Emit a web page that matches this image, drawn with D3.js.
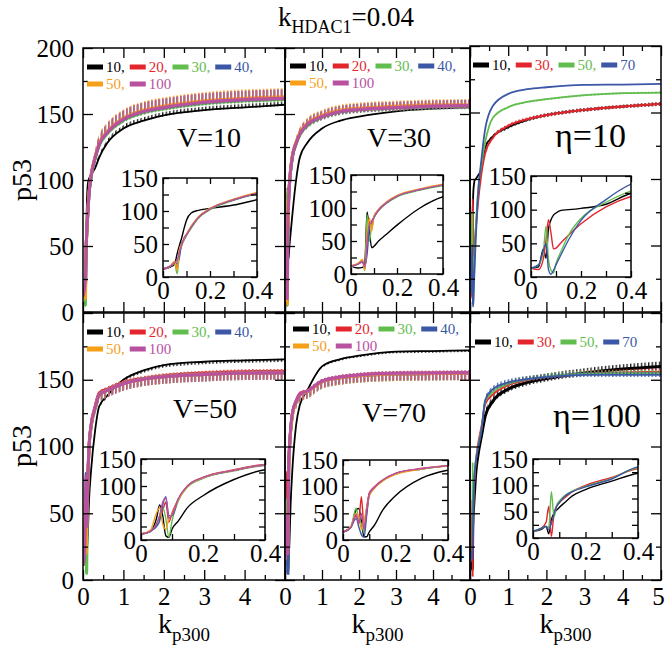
<!DOCTYPE html>
<html><head><meta charset="utf-8">
<script src="https://cdn.jsdelivr.net/npm/d3@7"></script>
<style>body{margin:0;background:#fff}svg{display:block}</style>
</head><body><svg id="c" width="665" height="651"></svg>
<script>
// ---------------- data ----------------
const K = [0, 0.03, 0.05, 0.06, 0.07, 0.08, 0.09, 0.1, 0.12, 0.15, 0.2, 0.3, 0.4, 0.6, 1, 1.5, 2, 3, 4, 5];
const xMajor = [0, 1, 2, 3, 4, 5];
const xMinor = [0.5, 1.5, 2.5, 3.5, 4.5];
const yMajor = [0, 50, 100, 150, 200];
const yMinor = [25, 75, 125, 175];
const ixMajor = [0, 0.2, 0.4];
const ixMinor = [0.1, 0.3];
const iyMajor = [0, 50, 100, 150];
const iyMinor = [25, 75, 125];
const labels6 = ["10,", "20,", "30,", "40,", "50,", "100"];
const labels4 = ["10,", "30,", "50,", "70"];

// V=10
const tl10  = [12, 15, 20, 35, 48, 60, 74, 86, 97, 101, 104, 109, 117, 128, 139, 145, 149, 153, 155, 157];
const tl20  = [12, 16, 22, 15, 40, 50, 58, 64, 75, 90, 103, 117, 127, 136, 146, 152, 155, 159, 161, 162];
const tl30  = [12, 16, 20, 5, 35, 48, 56, 63, 74, 89, 102, 116, 126, 135, 145, 151, 154, 158, 160, 161];
const tl40  = [12, 16, 22, 20, 30, 52, 57, 64, 76, 90, 103, 117, 127, 136, 146, 152, 155, 159, 161, 162];
const tl50  = [12, 16, 24, 10, 42, 50, 58, 65, 77, 91, 104, 118, 128, 137, 147, 153, 156, 160, 162, 163];
const tl100 = [12, 16, 22, 25, 38, 48, 60, 64, 76, 90, 103, 117, 127, 136, 146, 152, 155, 159, 161, 162];
// V=30
const tm10  = [12, 9, 10, 16, 94, 64, 40, 42, 50, 59, 74, 100, 117, 128, 139, 145, 148, 152, 154, 155];
const tm20  = [12, 15, 19, 8, 45, 80, 70, 87, 97, 107, 118, 128, 135, 142, 148, 152, 153.5, 155, 156, 156.5];
const tm30  = [12, 15, 20, 5, 90, 50, 75, 86, 96, 106, 117, 127, 134, 141, 147.5, 151.5, 153, 154.5, 155.5, 156];
const tm40  = [12, 15, 18, 12, 30, 70, 80, 86, 97, 107, 118, 128, 135, 142, 148, 152, 153.5, 155, 156, 156.5];
const tm50  = [12, 16, 22, 6, 60, 85, 65, 88, 98, 108, 119, 129, 136, 143, 149, 153, 154.5, 156, 157, 157];
const tm100 = [12, 15, 19, 10, 50, 75, 78, 86, 97, 107, 118, 128, 135, 142, 148, 152, 153.5, 155, 156, 156.5];
// eta=10
const tr10 = [13, 15, 42, 28, 72, 85, 92, 95, 99, 100, 102, 108, 124, 132, 139, 144.5, 148, 152, 154.5, 156.5];
const tr30 = [13, 11, 28, 55, 85, 65, 42, 43, 51, 62, 79, 104, 119.5, 131, 140, 145, 148, 152, 154.5, 156.5];
const tr50 = [13, 18, 40, 75, 25, 10, 6, 20, 38, 62, 87, 111, 128, 146, 154, 158, 160, 163, 164.5, 165];
const tr70 = [13, 18, 40, 50, 11, 4, 10, 18, 33, 55, 84, 115, 138, 155, 164, 167.5, 169, 170.7, 171, 171.5];
// V=50
const bl10  = [11, 16, 40, 65, 45, 8, 5, 20, 35, 60, 82, 112, 130, 138, 150, 157, 161, 163.5, 164.5, 165.3];
const bl20  = [11, 16, 30, 40, 55, 70, 33, 50, 75, 100, 116, 130, 140, 143, 148, 151, 153, 155, 156, 156.3];
const bl30  = [11, 16, 28, 45, 60, 40, 5, 35, 72, 98, 114, 128, 138, 142, 147, 150.5, 152.3, 154, 155, 155.3];
const bl40  = [11, 16, 25, 35, 65, 80, 45, 45, 76, 100, 115, 129, 139, 142, 147, 150.5, 152.3, 154, 155, 155.3];
const bl50  = [11, 18, 50, 60, 30, 20, 40, 48, 74, 99, 115, 129, 139, 142, 147, 150.5, 152.3, 154, 155, 155.3];
const bl100 = [11, 16, 30, 45, 70, 78, 40, 46, 76, 100, 116, 129, 139, 142, 147, 150.5, 152.3, 154, 155, 155.3];
// V=70
const bm10  = [15, 24, 56, 59, 35, 6, 6, 15, 28, 55, 83, 116, 131, 142, 160, 165.5, 168, 171, 171.5, 172];
const bm20  = [15, 24, 45, 35, 81, 25, 60, 88, 100, 112, 125, 134, 139.5, 141.5, 149, 152, 153.5, 154.8, 155, 155.3];
const bm30  = [15, 24, 60, 40, 30, 15, 50, 85, 98, 111, 124, 133, 138.5, 141, 148.5, 151.5, 153, 154.3, 154.6, 154.8];
const bm40  = [15, 24, 40, 25, 10, 5, 45, 84, 98, 111, 124, 133, 138.5, 141, 148.5, 151.5, 153, 154.3, 154.6, 154.8];
const bm50  = [15, 26, 50, 45, 20, 35, 60, 82, 97, 110, 123, 133, 138.5, 141, 148.5, 151.5, 153, 154.3, 154.6, 154.8];
const bm100 = [15, 24, 48, 30, 50, 20, 55, 86, 99, 112, 125, 134, 139, 141.5, 149, 152, 153.5, 154.8, 155, 155.3];
// eta=100
const br10 = [12.6, 16, 22, 8, 35, 47, 53, 58, 67, 80, 92, 108, 123, 134, 143, 148, 151, 155, 158, 160];
const br30 = [12.6, 18, 30, 60, 3, 47, 60, 67, 76, 88, 100, 115, 132, 139, 146, 150, 152, 154.5, 155.5, 156];
const br50 = [12.6, 18, 22, 20, 88, 40, 62, 70, 80, 89, 98, 113, 134, 141, 147, 150.5, 152.5, 154.5, 155, 155];
const br70 = [12.6, 18, 22, 16, 28, 45, 60, 67, 79, 88, 97, 112, 135, 143, 148, 150.5, 152, 153.6, 153.6, 153.6];

// ---------------- styles / layout ----------------
const C = {k:"#000000", r:"#e3262d", g:"#62bd4f", b:"#3b57a6", o:"#f6a01a", m:"#b8519f"};
const col6 = [C.k, C.r, C.g, C.b, C.o, C.m];
const col4 = [C.k, C.r, C.g, C.b];

function mk(labels, cols, arrays, fuzz){
  return arrays.map((a,i)=>({name:labels[i], color:cols[i], data:a, fuzz:fuzz[i]}));
}
const panels = [
 {id:"tl", x0:83, x1:285, yt:48, yb:312, yLab:true, xLab:false, last:false, up:2.2, dn:0.6,
  label:"V=10", lx:177, ly:147, lfs:28, leg:[87,67],
  inset:[163,178,257,277],
  series: mk(labels6, col6, [tl10,tl20,tl30,tl40,tl50,tl100], [1.5,4,4,4,4,4])},
 {id:"tm", x0:285, x1:470, yt:48, yb:312, yLab:false, xLab:false, last:false, up:1.6, dn:0.9,
  label:"V=30", lx:367, ly:147, lfs:28, leg:[290,66],
  inset:[351,175,443,274],
  series: mk(labels6, col6, [tm10,tm20,tm30,tm40,tm50,tm100], [0,3.5,3.5,3.5,3.5,3.5])},
 {id:"tr", x0:470, x1:661, yt:46, yb:312, yLab:false, xLab:false, last:true, up:1.2, dn:1.2,
  label:"η=10", lx:555, ly:147, lfs:34, leg:[473,65],
  inset:[531,176,631,277],
  series: mk(labels4, col4, [tr10,tr30,tr50,tr70], [1.5,1.5,0.8,0])},
 {id:"bl", x0:83, x1:285, yt:313, yb:580, yLab:true, xLab:true, last:false, yTop:150, up:0.7, dn:2,
  label:"V=50", lx:173, ly:418, lfs:28, leg:[87,332],
  inset:[141,459,265,540],
  series: mk(labels6, col6, [bl10,bl20,bl30,bl40,bl50,bl100], [1.2,3.5,3.5,3.5,3.5,3.5])},
 {id:"bm", x0:285, x1:470, yt:313, yb:580, yLab:false, xLab:true, last:false, up:0.7, dn:2,
  label:"V=70", lx:362, ly:422, lfs:28, leg:[293,329],
  inset:[343,460,448,540],
  series: mk(labels6, col6, [bm10,bm20,bm30,bm40,bm50,bm100], [0.8,3.5,3.5,3.5,3.5,3.5])},
 {id:"br", x0:470, x1:661, yt:313, yb:580, yLab:false, xLab:true, last:true, up:1.6, dn:1,
  label:"η=100", lx:553, ly:427, lfs:34, leg:[475,342],
  inset:[533,459,638,538],
  series: mk(labels4, col4, [br10,br30,br50,br70], [3,2,2,2])}
];

const FONT = "'Liberation Serif', 'Times New Roman', serif";
const svg = d3.select("#c").style("font-family", FONT);
const defs = svg.append("defs");

function T(sel){ return sel.style("font-family", FONT); }

function hatch(color){
  const id = "h" + color.slice(1);
  if (defs.select("#"+id).empty()){
    const p = defs.append("pattern").attr("id",id).attr("patternUnits","userSpaceOnUse")
      .attr("width",3.6).attr("height",40);
    p.append("line").attr("x1",0.7).attr("x2",0.7).attr("y1",0).attr("y2",40)
      .attr("stroke",color).attr("stroke-width",1.2);
  }
  return id;
}

function addAxis(g, gen, tr, values, size, fmt, pad, fs){
  const a = g.append("g").attr("transform",tr)
    .call(gen.tickValues(values).tickSizeInner(-size).tickSizeOuter(0).tickPadding(pad).tickFormat(fmt));
  a.select(".domain").remove();
  a.attr("font-family", null);
  a.selectAll("line").attr("stroke","#000").attr("stroke-width",1.3);
  T(a.selectAll("text")).style("font-size", fs+"px").attr("fill","#000");
  return a;
}

function drawPanel(P){
  const g = svg.append("g");
  const x = d3.scaleLinear().domain([0,5]).range([P.x0,P.x1]);
  const y = d3.scaleLinear().domain([0,200]).range([P.yb,P.yt]);
  const cid = "clip"+P.id;
  defs.append("clipPath").attr("id",cid).append("rect")
    .attr("x",P.x0).attr("y",P.yt).attr("width",P.x1-P.x0).attr("height",P.yb-P.yt);
  const lg = g.append("g").attr("clip-path",`url(#${cid})`);
  P.series.forEach(s=>{
    const pts = K.map((k,i)=>[k, s.data[i]]);
    if (s.fuzz > 0){
      const fp = pts.filter(d=>d[0] >= 0.3);
      lg.append("path").datum(fp)
        .attr("d", d3.area().x(d=>x(d[0])).y0(d=>y(d[1])-s.fuzz*P.up).y1(d=>y(d[1])+s.fuzz*P.dn).curve(d3.curveMonotoneX))
        .attr("fill", `url(#${hatch(s.color)})`);
    }
    lg.append("path").datum(pts)
      .attr("d", d3.line().x(d=>x(d[0])).y(d=>y(d[1])).curve(d3.curveMonotoneX))
      .attr("fill","none").attr("stroke",s.color).attr("stroke-width", s.fuzz>=3 ? 3 : 1.8);
  });
  const xf = d => P.xLab ? ((d===5 && !P.last) ? "" : d) : "";
  const yTop = P.yTop===undefined ? 200 : P.yTop;
  const yf = d => P.yLab ? (d<=yTop ? d : "") : "";
  const xa = addAxis(g, d3.axisBottom(x), `translate(0,${P.yb})`, xMajor, 10, xf, 7, 25);
  if (P.last) xa.selectAll("text").filter(d=>d===5).attr("x",-3);
  addAxis(g, d3.axisBottom(x), `translate(0,${P.yb})`, xMinor, 5, "", 7, 25);
  addAxis(g, d3.axisTop(x), `translate(0,${P.yt})`, xMajor, 10, "", 9, 25);
  addAxis(g, d3.axisTop(x), `translate(0,${P.yt})`, xMinor, 5, "", 9, 25);
  addAxis(g, d3.axisLeft(y), `translate(${P.x0},0)`, yMajor, 10, yf, 9, 25);
  addAxis(g, d3.axisLeft(y), `translate(${P.x0},0)`, yMinor, 5, "", 9, 25);
  addAxis(g, d3.axisRight(y), `translate(${P.x1},0)`, yMajor, 10, "", 9, 25);
  addAxis(g, d3.axisRight(y), `translate(${P.x1},0)`, yMinor, 5, "", 9, 25);
  g.append("rect").attr("x",P.x0).attr("y",P.yt).attr("width",P.x1-P.x0).attr("height",P.yb-P.yt)
    .attr("fill","none").attr("stroke","#000").attr("stroke-width",1.5);

  // legend
  let lx = P.leg[0], ly = P.leg[1];
  P.series.forEach((s,i)=>{
    if (P.series.length===6 && i===4){ lx = P.leg[0]; ly += 17; }
    g.append("rect").attr("x",lx).attr("y",ly-2.5).attr("width",16).attr("height",5).attr("fill",s.color);
    const t = T(g.append("text")).attr("x",lx+19).attr("y",ly+5).style("font-size","15px")
      .attr("fill",s.color).text(s.name);
    lx += 19 + t.node().getComputedTextLength() + 5;
  });

  T(g.append("text")).attr("x",P.lx).attr("y",P.ly).style("font-size",P.lfs+"px").attr("fill","#000").text(P.label);

  // inset
  const [ix0,iy0,ix1,iy1] = P.inset;
  const xi = d3.scaleLinear().domain([0,0.4]).range([ix0,ix1]);
  const yi = d3.scaleLinear().domain([0,150]).range([iy1,iy0]);
  const gi = svg.append("g");
  gi.append("rect").attr("x",ix0).attr("y",iy0).attr("width",ix1-ix0).attr("height",iy1-iy0).attr("fill","#fff");
  const icid = "iclip"+P.id;
  defs.append("clipPath").attr("id",icid).append("rect")
    .attr("x",ix0).attr("y",iy0).attr("width",ix1-ix0).attr("height",iy1-iy0);
  const il = gi.append("g").attr("clip-path",`url(#${icid})`);
  P.series.forEach(s=>{
    const pts = K.map((k,i)=>[k, s.data[i]]).filter(d=>d[0]<=0.6);
    il.append("path").datum(pts)
      .attr("d", d3.line().x(d=>xi(d[0])).y(d=>yi(d[1])).curve(d3.curveMonotoneX))
      .attr("fill","none").attr("stroke",s.color).attr("stroke-width",1.4);
  });
  const ixf = d => d===0 ? "0" : d.toFixed(1);
  addAxis(gi, d3.axisBottom(xi), `translate(0,${iy1})`, ixMajor, 6, ixf, 4, 25);
  addAxis(gi, d3.axisBottom(xi), `translate(0,${iy1})`, ixMinor, 6, "", 4, 25);
  addAxis(gi, d3.axisTop(xi), `translate(0,${iy0})`, ixMajor, 6, "", 5, 25);
  addAxis(gi, d3.axisTop(xi), `translate(0,${iy0})`, ixMinor, 6, "", 5, 25);
  addAxis(gi, d3.axisLeft(yi), `translate(${ix0},0)`, iyMajor, 6, d=>d, 5, 25);
  addAxis(gi, d3.axisLeft(yi), `translate(${ix0},0)`, iyMinor, 6, "", 5, 25);
  addAxis(gi, d3.axisRight(yi), `translate(${ix1},0)`, iyMajor, 6, "", 5, 25);
  addAxis(gi, d3.axisRight(yi), `translate(${ix1},0)`, iyMinor, 6, "", 5, 25);
  gi.append("rect").attr("x",ix0).attr("y",iy0).attr("width",ix1-ix0).attr("height",iy1-iy0)
    .attr("fill","none").attr("stroke","#000").attr("stroke-width",1.5);
}
panels.forEach(drawPanel);

// titles
const title = T(svg.append("text")).attr("x",278).attr("y",26).style("font-size","27px").attr("fill","#000");
title.append("tspan").text("k");
title.append("tspan").style("font-size","18px").attr("dy",7).text("HDAC1");
title.append("tspan").attr("dy",-7).text("=0.04");

[184, 377.5, 565.5].forEach(cx=>{
  const t = T(svg.append("text")).attr("x",cx).attr("y",633).style("font-size","28px")
    .attr("text-anchor","middle").attr("fill","#000");
  t.append("tspan").text("k");
  t.append("tspan").style("font-size","19px").attr("dy",8).text("p300");
});
[180, 446].forEach(cy=>{
  T(svg.append("text")).attr("transform",`translate(31,${cy}) rotate(-90)`)
    .attr("text-anchor","middle").style("font-size","28px").attr("fill","#000").text("p53");
});
</script></body></html>
